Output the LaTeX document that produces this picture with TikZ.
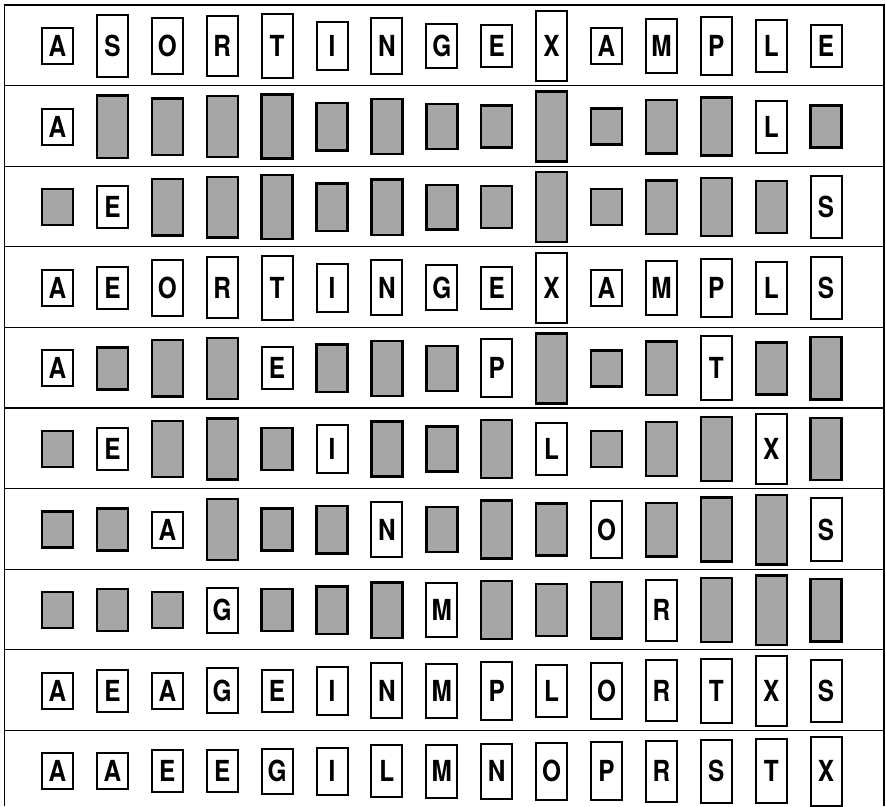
\documentclass[tikz,border=0pt]{standalone}
\usepackage{fontspec}
\setsansfont{TeX Gyre Heros}
\usetikzlibrary{calc}

\begin{document}
\begin{tikzpicture}[
        x=1pt, y=-1pt,
        key/.style={
            draw,
            line width=2pt,
            minimum width=31pt,
            inner sep=0pt,
            fill=white,
            font=\sffamily\bfseries\fontsize{29}{29}\selectfont
        },
        keyoff/.style={key, fill=black!35, line width=2.4pt},
        rule/.style={line width=1.2pt}
    ]
    \useasboundingbox (0,0) rectangle (886,806);

    % Rahmen
    \draw[rule] (4.5,806) -- (4.5,5) -- (884,5) -- (884,806);
    \foreach \k in {1,...,9}
        \draw[rule] (4.5,{5+80.6*\k}) -- (884,{5+80.6*\k});

    % Zeilen: Grossbuchstabe = sichtbar, Kleinbuchstabe = grau
    \foreach \r/\arr in {
        1/{A,S,O,R,T,I,N,G,E,X,A,M,P,L,E},
        2/{A,s,o,r,t,i,n,g,e,x,a,m,p,L,e},
        3/{a,E,o,r,t,i,n,g,e,x,a,m,p,l,S},
        4/{A,E,O,R,T,I,N,G,E,X,A,M,P,L,S},
        5/{A,e,o,r,E,i,n,g,P,x,a,m,T,l,s},
        6/{a,E,o,r,e,I,n,g,p,L,a,m,t,X,s},
        7/{a,e,A,r,e,i,N,g,p,l,O,m,t,x,S},
        8/{a,e,a,G,e,i,n,M,p,l,o,R,t,x,s},
        9/{A,E,A,G,E,I,N,M,P,L,O,R,T,X,S},
        10/{A,A,E,E,G,I,L,M,N,O,P,R,S,T,X}}
    {
        \foreach \L [count=\c] in \arr {
            \edef\code{\number\expandafter`\L}
            \pgfmathsetmacro\h{36+1.47*mod(\code-65,32)}
            \pgfmathsetmacro\px{57.5+54.9*(\c-1)}
            \pgfmathsetmacro\py{46+80.6*(\r-1)}
            \ifnum\code>96
                \node[keyoff, minimum height=\h pt] (k-\r-\c) at (\px,\py) {};
            \else
                \node[key, minimum height=\h pt] (k-\r-\c) at (\px,\py) {\scalebox{0.84}[1]{\L}};
            \fi
        }
    }

\end{tikzpicture}
\end{document}
